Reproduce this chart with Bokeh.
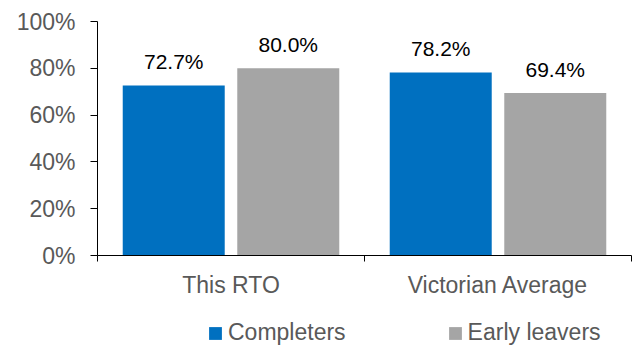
from bokeh.plotting import figure
from bokeh.layouts import column
from bokeh.models import (ColumnDataSource, FixedTicker, NumeralTickFormatter, Legend, LegendItem, Range1d)
from bokeh.transform import dodge
from bokeh.embed import file_html
from bokeh.resources import INLINE

categories = ["This RTO", "Victorian Average"]
series_names = ["Completers", "Early leavers"]
completers = [0.727, 0.782]
early_leavers = [0.800, 0.694]
y_ticks = [0, 0.2, 0.4, 0.6, 0.8, 1.0]

COLORS = ["#0070C0", "#A5A5A5"]
FONT = "Liberation Sans"
GREY_TXT = "#595959"

xs = [i + 0.5 for i in range(len(categories))]
src = ColumnDataSource(dict(
    x=xs, comp=completers, early=early_leavers,
    comp_lbl=[f"{v*100:.1f}%" for v in completers],
    early_lbl=[f"{v*100:.1f}%" for v in early_leavers],
))

p = figure(width=638, height=300, output_backend="svg", toolbar_location=None,
           x_range=Range1d(0, len(categories)), y_range=Range1d(0, 1))
p.min_border_left = 97
p.min_border_right = 7
p.min_border_top = 21
p.min_border_bottom = 44
p.outline_line_color = None
p.xgrid.grid_line_color = None
p.ygrid.grid_line_color = None

bw = 0.382
off = 0.2145
p.vbar(x=dodge("x", -off, range=p.x_range), top="comp", width=bw, source=src,
       fill_color=COLORS[0], line_color=None)
p.vbar(x=dodge("x", off, range=p.x_range), top="early", width=bw, source=src,
       fill_color=COLORS[1], line_color=None)

p.text(x=dodge("x", -off, range=p.x_range), y="comp", text="comp_lbl", source=src,
       text_align="center", text_baseline="alphabetic", y_offset=-24,
       text_font_size="21px", text_color="#000000", text_font={"value": FONT})
p.text(x=dodge("x", off, range=p.x_range), y="early", text="early_lbl", source=src,
       text_align="center", text_baseline="alphabetic", y_offset=-24,
       text_font_size="21px", text_color="#000000", text_font={"value": FONT})

# y axis
ya = p.yaxis[0]
ya.ticker = FixedTicker(ticks=y_ticks, minor_ticks=[])
ya.formatter = NumeralTickFormatter(format="0%")
ya.axis_line_color = "#000000"
ya.major_tick_line_color = "#000000"
ya.major_tick_out = 7
ya.major_tick_in = 0
ya.minor_tick_line_color = None
ya.major_label_text_font = FONT
ya.major_label_text_font_size = "23px"
ya.major_label_text_color = GREY_TXT
ya.major_label_standoff = 15

# x axis
xa = p.xaxis[0]
xa.ticker = FixedTicker(ticks=xs, minor_ticks=list(range(len(categories) + 1)))
xa.major_label_overrides = {x: c for x, c in zip(xs, categories)}
xa.axis_line_color = "#000000"
xa.major_tick_line_color = None
xa.major_tick_out = 0
xa.major_tick_in = 0
xa.minor_tick_line_color = "#000000"
xa.minor_tick_out = 6
xa.minor_tick_in = 0
xa.major_label_text_font = FONT
xa.major_label_text_font_size = "23px"
xa.major_label_text_color = GREY_TXT
xa.major_label_standoff = 10

# legend strip (frame is aligned with the main plot's frame by the column layout)
lf = figure(width=638, height=47, output_backend="svg", toolbar_location=None,
            x_axis_location=None, y_axis_location=None,
            x_range=Range1d(0, 1), y_range=Range1d(0, 1))
lf.min_border_left = 0
lf.min_border_right = 0
lf.min_border_top = 0
lf.min_border_bottom = 0
lf.outline_line_color = None
lf.xgrid.grid_line_color = None
lf.ygrid.grid_line_color = None
items = []
for name, col in zip(series_names, COLORS):
    # placeholder renderer outside the visible range, only used for the legend swatch
    r = lf.vbar(x=[-5], top=[0], width=0.1, fill_color=col, line_color=None)
    items.append(LegendItem(label=name, renderers=[r]))

legend = Legend(items=items, orientation="horizontal", location=(110, 1),
                glyph_width=16, glyph_height=16, label_standoff=5, spacing=101,
                label_text_font=FONT, label_text_font_size="23px",
                label_text_color=GREY_TXT, label_height=16,
                padding=0, margin=0, border_line_color=None,
                background_fill_alpha=0)
lf.add_layout(legend, "center")

layout = column(p, lf, spacing=0)
open("out.html", "w").write(file_html(layout, INLINE))
